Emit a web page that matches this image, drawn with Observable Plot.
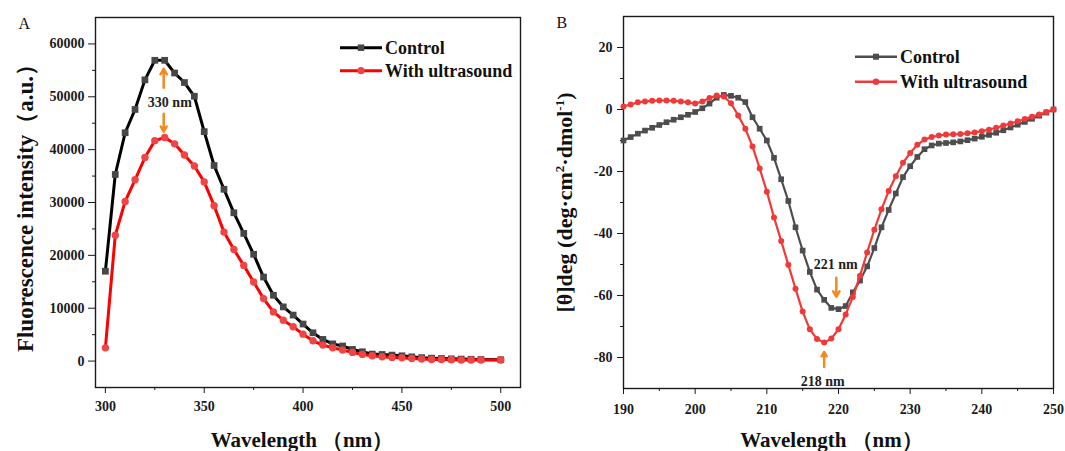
<!DOCTYPE html>
<html><head><meta charset="utf-8">
<script src="https://cdn.jsdelivr.net/npm/d3@7"></script>
<script src="https://cdn.jsdelivr.net/npm/@observablehq/plot@0.6"></script>
<style>
body{margin:0;background:#fff;}
#wrap{position:relative;width:1065px;height:451px;overflow:hidden;font-family:"Liberation Serif","Times New Roman",serif;}
#wrap > div{position:absolute;top:0;}
#wrap svg.leg{position:absolute;top:0;left:0;}
</style></head>
<body><div id="wrap"><div id="pa" style="left:0"></div><div id="pb" style="left:532px"></div></div>
<script>
// ---------- Panel A data (fluorescence) ----------
const xA = [300,305,310,315,320,325,330,335,340,345,350,355,360,365,370,375,380,385,390,395,400,405,410,415,420,425,430,435,440,445,450,455,460,465,470,475,480,485,490,500];
const controlA = [17000,35300,43200,47600,53200,56900,56900,54500,52700,50100,43400,37000,32500,28050,24150,20200,15900,12450,10250,8700,7000,5350,4100,3250,2850,2200,1760,1320,1250,1130,1000,800,650,550,480,420,380,340,300,250];
const ultraA = [2500,23800,30200,34300,38500,41700,42300,41100,39000,36900,33900,29400,24400,21100,18100,14970,11820,9300,7740,6480,5090,3840,3020,2520,2080,1640,1260,1010,820,690,630,500,380,310,310,250,190,190,190,190];
const xTicksA = [300,350,400,450,500];
const xMinorA = [325,375,425,475];
const yTicksA = [0,10000,20000,30000,40000,50000,60000];
const yMinorA = [5000,15000,25000,35000,45000,55000];
const arrowsA = [{x:329.5,y1:51700,y2:55300},{x:329.5,y1:46800,y2:43400}];
const labelsA = [{x:332.6,y:48100,t:"330 nm"}];

// ---------- Panel B data (CD) ----------
const xB = [190,191,192,193,194,195,196,197,198,199,200,201,202,203,204,205,206,207,208,209,210,211,212,213,214,215,216,217,218,219,220,221,222,223,224,225,226,227,228,229,230,231,232,233,234,235,236,237,238,239,240,241,242,243,244,245,246,247,248,249,250];
const controlB = [-10.0,-8.9,-7.8,-6.8,-5.9,-5.0,-4.1,-3.3,-2.5,-1.7,-0.8,0.4,1.9,3.8,4.7,4.4,3.8,2.4,-2.5,-6.2,-10.0,-15.6,-22.5,-29.5,-38.0,-45.5,-52.4,-58.1,-61.4,-64.0,-64.4,-63.4,-59.0,-55.2,-50.6,-44.7,-38.0,-32.4,-27.1,-21.8,-18.3,-15.3,-12.8,-11.6,-11.0,-10.8,-10.6,-10.3,-9.9,-9.4,-8.8,-8.2,-7.5,-6.7,-5.8,-4.9,-4.0,-3.0,-2.0,-1.0,0.0];
const ultraB = [1.0,1.6,2.3,2.6,2.8,2.9,2.9,2.8,2.6,2.3,1.9,2.6,3.7,4.5,4.2,2.0,-1.9,-6.2,-11.9,-19.0,-26.5,-34.8,-42.4,-50.1,-57.8,-65.2,-70.9,-74.0,-75.2,-73.9,-70.9,-66.1,-60.5,-53.6,-46.1,-38.8,-32.2,-26.3,-21.5,-17.2,-14.0,-11.4,-9.7,-8.9,-8.4,-8.1,-8.0,-7.9,-7.7,-7.4,-7.0,-6.5,-5.9,-5.2,-4.5,-3.8,-3.1,-2.3,-1.6,-0.8,0.0];
const xTicksB = [190,200,210,220,230,240,250];
const xMinorB = [195,205,215,225,235,245];
const yTicksB = [-80,-60,-40,-20,0,20];
const yMinorB = [-70,-50,-30,-10,10];
const arrowsB = [{x:219.7,y1:-54.3,y2:-60.4},{x:218.0,y1:-83.1,y2:-78.2}];
const labelsB = [{x:219.6,y:-51.4,t:"221 nm"},{x:217.8,y:-89.1,t:"218 nm"}];

const seriesNames = ["Control","With ultrasound"];
const xTitle = "Wavelength （nm）";
const yTitleA = "Fluorescence intensity（a.u.）";
const yTitleB = "[θ]deg (deg·cm2·dmol-1)";
const yTitleBParts = [{t:"[θ]deg (deg·cm"},{t:"2",sup:true},{t:"·dmol"},{t:"-1",sup:true},{t:")"}];

const FONT = "'Liberation Serif','Times New Roman',serif";
const ORANGE = "#f5891f";

const dataA = xA.map((x,i)=>({x, c:controlA[i], u:ultraA[i]}));
const dataB = xB.map((x,i)=>({x, c:controlB[i], u:ultraB[i]}));
const fmt = d => String(d);

function axes(xt, xm, yt, ym, xs, xp, ys, yp){
  return [
    Plot.axisX({ticks: xt, tickSize: xs, tickPadding: xp, tickFormat: fmt, label: null, fontSize: 14, fontWeight: "bold"}),
    Plot.axisX({ticks: xm, tickSize: 3, tickFormat: () => "", label: null}),
    Plot.axisY({ticks: yt, tickSize: ys, tickPadding: yp, tickFormat: fmt, label: null, fontSize: 14, fontWeight: "bold"}),
    Plot.axisY({ticks: ym, tickSize: 3, tickFormat: () => "", label: null}),
  ];
}

const plotA = Plot.plot({
  width: 532, height: 451,
  marginLeft: 95, marginRight: 12, marginTop: 17, marginBottom: 64,
  style: {fontFamily: FONT, fontWeight: "bold", fontSize: "14px", color: "#1a1a1a", background: "transparent", overflow: "visible"},
  x: {domain: [295, 510]},
  y: {domain: [-5000, 65000]},
  marks: [
    ...axes(xTicksA, xMinorA, yTicksA, yMinorA, 6, 8, 7, 4),
    Plot.frame({stroke: "#1a1a1a", strokeWidth: 1.4}),
    Plot.line(dataA, {x: "x", y: "c", stroke: "#000", strokeWidth: 3}),
    Plot.dot(dataA, {x: "x", y: "c", symbol: "square", r: 3.8, fill: "#474747"}),
    Plot.line(dataA, {x: "x", y: "u", stroke: "#ff0000", strokeWidth: 3}),
    Plot.dot(dataA, {x: "x", y: "u", r: 3.7, fill: "#f04545"}),
    Plot.arrow(arrowsA, {x: "x", y1: "y1", y2: "y2", x1: "x", x2: "x", stroke: ORANGE, strokeWidth: 2.5, headLength: 7}),
    Plot.text(labelsA, {x: "x", y: "y", text: "t", fontSize: 14, fontWeight: "bold", lineAnchor: "bottom", fill: "#222"}),
    Plot.text([yTitleA], {frameAnchor: "left", text: d => d, rotate: -90, dx: -70, fontSize: 23, fontWeight: "bold", textAnchor: "middle", lineAnchor: "middle", fill: "#111"}),
    Plot.text([xTitle], {frameAnchor: "bottom", text: d => d, dx: -6, dy: 59, fontSize: 21, fontWeight: "bold", textAnchor: "middle", lineAnchor: "bottom", fill: "#111"}),
    Plot.text(["A"], {frameAnchor: "top-left", text: d => d, dx: -77, dy: 11.3, fontSize: 16, fontWeight: "normal", textAnchor: "start", lineAnchor: "bottom", fill: "#111"})
  ]
});

const plotB = Plot.plot({
  width: 533, height: 451,
  marginLeft: 91, marginRight: 12, marginTop: 16, marginBottom: 63,
  style: {fontFamily: FONT, fontWeight: "bold", fontSize: "14px", color: "#1a1a1a", background: "transparent", overflow: "visible"},
  x: {domain: [190, 250]},
  y: {domain: [-90, 30]},
  marks: [
    ...axes(xTicksB, xMinorB, yTicksB, yMinorB, 6, 10, 6, 5),
    Plot.frame({stroke: "#1a1a1a", strokeWidth: 1.4}),
    Plot.line(dataB, {x: "x", y: "c", stroke: "#4d4d4d", strokeWidth: 2.2}),
    Plot.dot(dataB, {x: "x", y: "c", symbol: "square", r: 3.2, fill: "#4d4d4d"}),
    Plot.line(dataB, {x: "x", y: "u", stroke: "#f03a3a", strokeWidth: 2.2}),
    Plot.dot(dataB, {x: "x", y: "u", r: 3, fill: "#f03a3a"}),
    Plot.arrow(arrowsB, {x: "x", y1: "y1", y2: "y2", x1: "x", x2: "x", stroke: ORANGE, strokeWidth: 2.5, headLength: 7}),
    Plot.text(labelsB, {x: "x", y: "y", text: "t", fontSize: 14, fontWeight: "bold", lineAnchor: "bottom", fill: "#222"}),
    Plot.text([yTitleB], {frameAnchor: "left", text: d => d, rotate: -90, dx: -59, fontSize: 22, fontWeight: "bold", textAnchor: "middle", lineAnchor: "middle", fill: "#111"}),
    Plot.text([xTitle], {frameAnchor: "bottom", text: d => d, dx: -7, dy: 58, fontSize: 21, fontWeight: "bold", textAnchor: "middle", lineAnchor: "bottom", fill: "#111"}),
    Plot.text(["B"], {frameAnchor: "top-left", text: d => d, dx: -67, dy: 11.3, fontSize: 16, fontWeight: "normal", textAnchor: "start", lineAnchor: "bottom", fill: "#111"})
  ]
});

document.getElementById("pa").appendChild(plotA);
document.getElementById("pb").appendChild(plotB);

// superscripts in panel B y title
d3.select(plotB).selectAll("text").filter(function(){ return this.textContent === yTitleB; }).each(function(){
  const t = d3.select(this); t.text(null);
  let prevSup = false;
  yTitleBParts.forEach(p => {
    const s = t.append("tspan").text(p.t);
    if (p.sup) { s.attr("font-size", "13px").attr("dy", "-8"); }
    else if (prevSup) { s.attr("dy", "8"); }
    prevSup = !!p.sup;
  });
});

// legends
function legend(svgParent, x0, x1, yLine, cLine, cMark, uLine, uMark, sq, cr, lw){
  const svg = d3.select(svgParent).append("svg").attr("class","leg").attr("width", 532).attr("height", 120)
    .style("font-family", FONT).style("font-weight", "bold").style("font-size", "18px");
  const rows = [{name: seriesNames[0], line: cLine, mark: cMark, sym: "sq"}, {name: seriesNames[1], line: uLine, mark: uMark, sym: "ci"}];
  rows.forEach((r, i) => {
    const y = yLine[i];
    svg.append("line").attr("x1", x0).attr("x2", x1).attr("y1", y).attr("y2", y).attr("stroke", r.line).attr("stroke-width", lw);
    const cx = (x0 + x1) / 2;
    if (r.sym === "sq") svg.append("rect").attr("x", cx - sq/2).attr("y", y - sq/2).attr("width", sq).attr("height", sq).attr("fill", r.mark);
    else svg.append("circle").attr("cx", cx).attr("cy", y).attr("r", cr).attr("fill", r.mark);
    svg.append("text").attr("x", x1 + 3).attr("y", y + 6.5).attr("fill", "#111").text(r.name);
  });
}
legend(document.getElementById("pa"), 340, 382, [47.7, 70.7], "#000", "#474747", "#ff0000", "#f04545", 6.5, 3.6, 3);
legend(document.getElementById("pb"), 855-532, 897-532, [56.7, 81.7], "#4d4d4d", "#4d4d4d", "#f03a3a", "#f03a3a", 6, 3.2, 2.5);
</script>
</body></html>
